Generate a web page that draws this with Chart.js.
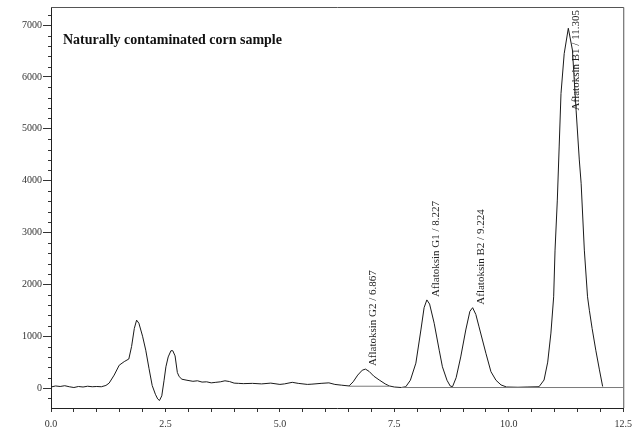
<!DOCTYPE html>
<html>
<head>
<meta charset="utf-8">
<script src="https://cdn.jsdelivr.net/npm/chart.js@4.4.1/dist/chart.umd.min.js"></script>
<style>
  html, body { margin: 0; padding: 0; background: #fff; }
  canvas { display: block; }
</style>
</head>
<body>
<canvas id="chromChart" width="638" height="431"></canvas>
<script>
// Chromatogram trace (retention time in min, detector response)
const times = [
  0.0, 0.1, 0.2, 0.3, 0.4, 0.5, 0.6, 0.7, 0.8, 0.9, 1.0, 1.1, 1.2, 1.27, 1.38, 1.49,
  1.60, 1.70, 1.76, 1.82, 1.87, 1.92, 2.00, 2.07, 2.14, 2.21, 2.28, 2.33, 2.37, 2.42,
  2.47, 2.51, 2.56, 2.62, 2.66, 2.71, 2.76, 2.80, 2.86, 2.97, 3.1, 3.2, 3.3, 3.4, 3.5,
  3.6, 3.7, 3.8, 3.9, 4.0, 4.1, 4.2, 4.4, 4.6, 4.8, 5.0, 5.1, 5.27, 5.4, 5.6, 5.7, 5.9,
  6.07, 6.2, 6.35, 6.51, 6.6, 6.7, 6.8, 6.87, 6.95, 7.05, 7.17, 7.3, 7.39, 7.5, 7.65,
  7.75, 7.85, 7.97, 8.08, 8.15, 8.21, 8.27, 8.37, 8.48, 8.55, 8.65, 8.72, 8.77, 8.85,
  8.95, 9.06, 9.15, 9.21, 9.28, 9.35, 9.50, 9.61, 9.72, 9.83, 9.95, 10.2, 10.4, 10.66,
  10.77, 10.85, 10.92, 10.98, 11.01, 11.06, 11.10, 11.14, 11.21, 11.30, 11.39, 11.47,
  11.54, 11.58, 11.65, 11.72, 11.76, 11.82, 11.90, 11.98, 12.05
];
const signal = [
  20, 40, 30, 45, 25, 10, 30, 20, 35, 25, 30, 25, 50, 95, 250, 440,
  510, 560, 800, 1150, 1310, 1250, 1000, 730, 380, 50, -120, -210, -240, -150,
  150, 410, 600, 720, 720, 620, 300, 220, 170, 150, 130, 140, 115, 120, 100,
  110, 120, 140, 125, 95, 90, 85, 90, 80, 95, 70, 80, 110, 90, 70, 75, 90,
  100, 70, 55, 40, 120, 250, 345, 365, 320, 230, 155, 80, 40, 20, 10,
  25, 150, 480, 1120, 1550, 1700, 1620, 1250, 730, 410, 150, 40, 25, 200,
  600, 1120, 1480, 1550, 1420, 1180, 670, 315, 150, 60, 20, 15, 20, 25,
  155, 500, 1060, 1760, 2660, 3625, 4650, 5680, 6450, 6940, 6520, 5360,
  4400, 3950, 2660, 1760, 1500, 1150, 730, 350, 30
];

// Integration baselines drawn under the peaks
const baseStart = [6.51, 7.65];
const baseEnd = [7.39, 12.5];
const baseLevel = [35, 10];

// Peak annotations
const peakNames = ['Aflatoksin G2 / 6.867', 'Aflatoksin G1 / 8.227', 'Aflatoksin B2 / 9.224', 'Aflatoksin B1 / 11.305'];
const peakTimes = [6.867, 8.227, 9.224, 11.305];
const peakHeights = [365, 1700, 1550, 6940];

const chartTitle = 'Naturally contaminated corn sample';

const xMajor = [0, 2.5, 5, 7.5, 10, 12.5];

const tracePoints = times.map((t, i) => ({ x: t, y: signal[i] }));
const basePoints = [];
baseStart.forEach((s, i) => {
  basePoints.push({ x: s, y: baseLevel[i] });
  basePoints.push({ x: baseEnd[i], y: baseLevel[i] });
  basePoints.push({ x: baseEnd[i], y: null });
});

const serif = '"Liberation Serif", "Times New Roman", serif';

// frame, minor ticks, title and peak labels
const decorPlugin = {
  id: 'decor',
  afterDraw(chart) {
    const ctx = chart.ctx;
    const a = chart.chartArea;
    const xs = chart.scales.x;
    const ys = chart.scales.y;
    ctx.save();

    // box round the plot
    ctx.strokeStyle = '#555';
    ctx.lineWidth = 1;
    ctx.beginPath();
    ctx.moveTo(a.left, a.top + 0.5);
    ctx.lineTo(a.right + 0.5, a.top + 0.5);
    ctx.lineTo(a.right + 0.5, a.bottom);
    ctx.stroke();

    // minor ticks on the y axis
    ctx.strokeStyle = '#333';
    ctx.beginPath();
    ys.ticks.forEach(tk => {
      if (tk.value % 1000 !== 0) {
        const py = Math.round(ys.getPixelForValue(tk.value)) + 0.5;
        ctx.moveTo(a.left - 3, py);
        ctx.lineTo(a.left, py);
      }
    });
    ctx.stroke();

    // title
    ctx.fillStyle = '#111';
    ctx.font = 'bold 14px ' + serif;
    ctx.textAlign = 'left';
    ctx.textBaseline = 'alphabetic';
    ctx.fillText(chartTitle, a.left + 12, a.top + 37);

    // peak labels, rotated
    ctx.font = '11px ' + serif;
    ctx.fillStyle = '#222';
    peakNames.forEach((name, i) => {
      const px = xs.getPixelForValue(peakTimes[i]) + 8;
      let py = ys.getPixelForValue(peakHeights[i]) - 3;
      const w = ctx.measureText(name).width;
      if (py - w < a.top + 3) py = a.top + 3 + w;
      ctx.save();
      ctx.translate(px, py);
      ctx.rotate(-Math.PI / 2);
      ctx.textAlign = 'left';
      ctx.textBaseline = 'middle';
      ctx.fillText(name, 0, 0);
      ctx.restore();
    });
    ctx.restore();
  }
};

const data = {
  datasets: [{
    label: 'baseline',
    data: basePoints,
    borderColor: '#7a7a7a',
    borderWidth: 1,
    pointRadius: 0,
    showLine: true,
    spanGaps: false
  }, {
    label: 'signal',
    data: tracePoints,
    borderColor: '#1a1a1a',
    borderWidth: 1,
    pointRadius: 0,
    showLine: true,
    tension: 0
  }]
};

const options = {
  responsive: false,
  animation: false,
  layout: { padding: { top: 7, right: 14, left: 0, bottom: 0 } },
  plugins: {
    legend: { display: false },
    tooltip: { enabled: false },
    title: { display: false }
  },
  scales: {
    x: {
      type: 'linear',
      min: 0,
      max: 12.5,
      afterFit(scale) { scale.height = 23; },
      afterBuildTicks(scale) {
        scale.ticks = [];
        for (let i = 0; i <= 25; i++) scale.ticks.push({ value: i * 0.5 });
      },
      grid: { drawOnChartArea: false, drawTicks: true, tickLength: 4, color: '#333' },
      border: { display: true, color: '#222', width: 1 },
      ticks: {
        autoSkip: false,
        maxRotation: 0,
        padding: 6,
        color: '#333',
        font: { family: serif, size: 10 },
        callback(v) {
          return xMajor.some(m => Math.abs(m - v) < 1e-6) ? v.toFixed(1) : '';
        }
      }
    },
    y: {
      type: 'linear',
      min: -385,
      max: 7350,
      afterFit(scale) { scale.width = 51; },
      grid: {
        drawOnChartArea: false,
        drawTicks: true,
        tickLength: 8,
        tickColor(c) { return c.tick && c.tick.value % 1000 === 0 ? '#333' : 'rgba(0,0,0,0)'; }
      },
      border: { display: true, color: '#222', width: 1 },
      ticks: {
        stepSize: 200,
        includeBounds: false,
        autoSkip: false,
        padding: 1,
        color: '#333',
        font: { family: serif, size: 10 },
        callback(v) { return v % 1000 === 0 ? String(v) : ''; }
      }
    }
  }
};

const config = {
  type: 'scatter',
  data: data,
  options: options,
  plugins: [decorPlugin]
};

const chromChart = new Chart(document.getElementById('chromChart'), config);
</script>
</body>
</html>
